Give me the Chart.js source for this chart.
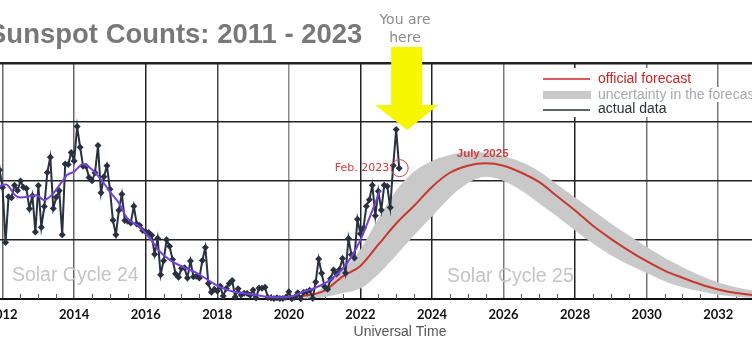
<!DOCTYPE html>
<html><head><meta charset="utf-8">
<script src="https://cdn.jsdelivr.net/npm/chart.js@4.4.0/dist/chart.umd.min.js"></script>
<style>
html,body{margin:0;padding:0;background:#fff;overflow:hidden;width:752px;height:351px;}
#wrap{position:absolute;left:-40px;top:0;width:840px;height:351px;}
canvas{display:block;}
</style></head><body>
<div id="wrap"><canvas id="c" width="840" height="351"></canvas></div>
<script>
// ---------- DATA ----------
const chartTitle = 'Sunspot Counts: 2011 - 2023';
const axisTitle = 'Universal Time';
const tickYears = [2012, 2014, 2016, 2018, 2020, 2022, 2024, 2026, 2028, 2030, 2032];
const cycleLabels = ['Solar Cycle 24', 'Solar Cycle 25'];
const legendLabels = ['official forecast', 'uncertainty in the forecast', 'actual data'];

// monthly sunspot numbers, first value = Nov 2011
const actualStart = [2011, 11];
const actualValues = [
  139.1, 109.3,
  94.4, 47.8, 86.6, 85.9, 96.5, 92.0, 100.1, 94.8, 93.7, 76.5, 87.6, 56.8,
  96.1, 60.9, 78.3, 107.3, 120.2, 76.7, 86.2, 91.8, 54.5, 114.4, 113.9, 124.2,
  117.0, 146.1, 128.7, 112.5, 112.5, 102.9, 100.2, 106.9, 130.0, 90.0, 103.6, 112.9,
  93.0, 66.7, 54.5, 75.3, 88.8, 66.5, 65.8, 64.4, 78.6, 63.6, 62.2, 58.0,
  57.0, 56.4, 54.1, 37.9, 51.5, 20.5, 32.4, 50.2, 44.6, 33.4, 21.4, 18.5,
  26.1, 26.4, 17.7, 32.3, 18.9, 19.2, 17.8, 32.6, 43.7, 13.2, 5.7, 8.2,
  6.8, 10.7, 2.5, 8.9, 13.1, 15.6, 1.6, 8.7, 3.3, 4.9, 4.9, 3.1,
  7.7, 0.8, 9.4, 9.1, 9.9, 1.2, 0.9, 0.5, 1.1, 0.4, 0.5, 1.5,
  6.2, 0.2, 1.5, 5.2, 0.2, 5.8, 6.1, 7.5, 0.6, 14.4, 34.0, 21.8,
  10.4, 8.2, 17.2, 24.5, 21.2, 25.0, 34.3, 22.0, 51.3, 37.4, 34.8, 67.5,
  55.3, 59.9, 78.5, 84.1, 96.5, 70.5, 91.4, 75.4, 96.3, 95.5, 77.6, 113.1,
  143.6, 110.9
];

// smoothed curve
const smoothYears = [2011.85, 2012.1, 2012.35, 2012.5, 2012.75, 2012.95, 2013.15, 2013.37, 2013.65, 2013.8, 2014.0, 2014.25, 2014.45, 2014.72, 2015.0, 2015.28, 2015.47, 2015.84, 2016.15, 2016.4, 2016.68, 2017.05, 2017.43, 2017.8, 2018.08, 2018.45, 2018.9, 2019.38, 2019.85, 2020.12, 2020.4, 2020.69, 2021.15, 2021.62, 2022.0, 2022.27, 2022.55];
const smoothValues = [95, 97, 88, 86, 87, 88, 84, 88, 99, 105, 108, 114.5, 111, 102.5, 91, 80, 69, 61, 50, 40, 33, 27, 22, 15, 10, 6.2, 4.2, 2, 1.4, 2.5, 6, 9, 16, 30, 50, 70, 92];

// forecast and uncertainty band
const forecastYears = [2020.0, 2020.5, 2021.0, 2021.5, 2022.0, 2022.5, 2023.0, 2023.5, 2024.0, 2024.5, 2025.0, 2025.5, 2026.0, 2026.5, 2027.0, 2027.5, 2028.0, 2028.5, 2029.0, 2029.5, 2030.0, 2030.5, 2031.0, 2031.5, 2032.0, 2032.5, 2033.0, 2033.5];
const forecastValues = [2, 3, 7, 19, 28, 46, 64, 79, 95, 107, 113, 115, 113, 107, 99, 87, 75, 62, 51, 41, 32, 24, 18, 12.5, 8, 5, 3.4, 2.2];
const bandUpper = [0, 2, 11, 25, 42, 68, 92, 108, 117, 122, 124.5, 124, 121, 116, 108, 97, 86, 75, 64, 54, 44, 35, 27, 20, 14, 10, 7, 5];
const bandLower = [0, 0.5, 1.5, 5, 9, 21, 37, 54, 70, 86, 98, 103.5, 100, 92, 81, 70, 58, 47, 37, 29, 22, 15, 10, 6.5, 3.5, 2, 1, 0.5];

// ---------- BUILD ----------
const OFF = 40; // canvas sits 40px left of the page edge
const actualPoints = actualValues.map((v, i) => {
  const m = actualStart[1] - 1 + i;
  return { x: actualStart[0] + Math.floor(m / 12) + (m % 12) / 12, y: v };
});
const zip = (xs, ys) => xs.map((x, i) => ({ x, y: ys[i] }));

const C_RED = '#c8382c', C_DATA = '#27313f', C_PURPLE = '#7443dc', C_BAND = '#c9c9c9';
const gridShade = { 2012: '#666', 2014: '#666', 2016: '#222', 2018: '#444', 2020: '#8a8a8a', 2022: '#222', 2024: '#222', 2026: '#777', 2028: '#222', 2030: '#777', 2032: '#777' };

const overlay = {
  id: 'overlay',
  beforeDatasetsDraw(chart) {
    const { ctx, scales: { x, y }, chartArea } = chart;
    ctx.save();
    // minor ticks
    ctx.strokeStyle = '#555'; ctx.lineWidth = 1;
    for (let v = 2011; v <= 2034; v += 0.5) {
      if (tickYears.includes(v)) continue;
      const px = Math.round(x.getPixelForValue(v)) + 0.5;
      ctx.beginPath(); ctx.moveTo(px, chartArea.bottom); ctx.lineTo(px, chartArea.bottom - 5); ctx.stroke();
    }
    ctx.fillStyle = '#c4c4c4';
    ctx.font = '19.5px "Liberation Sans", Arial, sans-serif';
    ctx.textBaseline = 'middle'; ctx.textAlign = 'left';
    ctx.fillText(cycleLabels[0], x.getPixelForValue(2012.26), y.getPixelForValue(19.5));
    ctx.fillText(cycleLabels[1], x.getPixelForValue(2024.42), y.getPixelForValue(18.6));
    ctx.restore();
  },
  afterDraw(chart) {
    const { ctx, scales: { x, y } } = chart;
    ctx.save();
    // title
    ctx.fillStyle = '#787878';
    ctx.font = 'bold 27.5px "Liberation Sans", Arial, sans-serif';
    ctx.textAlign = 'left'; ctx.textBaseline = 'alphabetic';
    ctx.fillText(chartTitle, -12 + OFF, 43);
    // axis title
    ctx.fillStyle = '#555';
    ctx.font = '14px "Liberation Sans Narrow", "Liberation Sans", sans-serif';
    ctx.textAlign = 'center'; ctx.textBaseline = 'middle';
    ctx.fillText(axisTitle, 400 + OFF, 332);
    // you are here
    ctx.fillStyle = '#8a8a8a';
    ctx.font = '14px "DejaVu Sans", sans-serif';
    ctx.fillText('You are', 405 + OFF, 20);
    ctx.fillText('here', 405 + OFF, 38);
    // arrow pointing to Jan 2023
    const jan = actualPoints[actualPoints.length - 2];
    const feb = actualPoints[actualPoints.length - 1];
    const tipX = x.getPixelForValue(jan.x) + 11, tipY = y.getPixelForValue(jan.y) + 0.5;
    ctx.fillStyle = '#f6f600';
    ctx.beginPath();
    ctx.moveTo(tipX - 16, tipY - 83); ctx.lineTo(tipX + 15, tipY - 83);
    ctx.lineTo(tipX + 15, tipY - 25); ctx.lineTo(tipX + 31, tipY - 25);
    ctx.lineTo(tipX, tipY); ctx.lineTo(tipX - 32, tipY - 25);
    ctx.lineTo(tipX - 16, tipY - 25); ctx.closePath(); ctx.fill();
    // Feb 2023 marker
    const fx = x.getPixelForValue(feb.x), fy = y.getPixelForValue(feb.y);
    ctx.strokeStyle = '#d44'; ctx.lineWidth = 1;
    ctx.beginPath(); ctx.arc(fx + 0.5, fy, 8.5, 0, Math.PI * 2); ctx.stroke();
    ctx.fillStyle = '#d04040';
    ctx.font = '11px "DejaVu Sans", sans-serif';
    ctx.textAlign = 'right';
    ctx.fillText('Feb. 2023', fx - 10, fy);
    // July 2025 peak label
    ctx.textAlign = 'center';
    ctx.font = 'bold 11.5px "Liberation Sans", Arial, sans-serif';
    ctx.fillText('July 2025', x.getPixelForValue(2025.5) - 3, y.getPixelForValue(115) - 9.5);
    // legend
    ctx.font = '14px "Liberation Sans", Arial, sans-serif';
    ctx.textAlign = 'left';
    const lx = 543 + OFF, tx = 598 + OFF;
    const rows = [
      { y: 79, top: 68, h: 19, color: '#cc2424' },
      { y: 95, top: 87, h: 15, color: '#a8a8a8' },
      { y: 109.5, top: 102, h: 15, color: '#2a2f3a' }
    ];
    rows.forEach((r, i) => {
      const w = ctx.measureText(legendLabels[i]).width;
      ctx.fillStyle = '#fff';
      ctx.fillRect(lx - 4, r.top, tx - lx + w + 6, r.h);
    });
    ctx.strokeStyle = '#cc2424'; ctx.lineWidth = 1.5;
    ctx.beginPath(); ctx.moveTo(lx, 79); ctx.lineTo(lx + 47, 79); ctx.stroke();
    ctx.fillStyle = C_BAND; ctx.fillRect(lx, 91, 48, 8);
    ctx.strokeStyle = '#2a2f3a'; ctx.lineWidth = 1.5;
    ctx.beginPath(); ctx.moveTo(lx, 110); ctx.lineTo(lx + 47, 110); ctx.stroke();
    rows.forEach((r, i) => {
      ctx.fillStyle = r.color;
      ctx.fillText(legendLabels[i], tx, r.y);
    });
    ctx.restore();
  }
};

new Chart(document.getElementById('c'), {
  type: 'line',
  data: {
    datasets: [
      { label: 'smoothed', data: zip(smoothYears, smoothValues), borderColor: C_PURPLE, borderWidth: 2, pointRadius: 0, cubicInterpolationMode: 'monotone', fill: false },
      { label: legendLabels[2], data: actualPoints, borderColor: C_DATA, backgroundColor: C_DATA, borderWidth: 2, pointStyle: 'rectRot', pointRadius: 3.5, pointBorderWidth: 0, tension: 0, fill: false, clip: false },
      { label: legendLabels[0], data: zip(forecastYears, forecastValues), borderColor: C_RED, borderWidth: 2, pointRadius: 0, cubicInterpolationMode: 'monotone', fill: false },
      { label: 'upper', data: zip(forecastYears, bandUpper), borderWidth: 0, borderColor: 'rgba(0,0,0,0)', backgroundColor: C_BAND, pointRadius: 0, cubicInterpolationMode: 'monotone', fill: '+1' },
      { label: 'lower', data: zip(forecastYears, bandLower), borderWidth: 0, borderColor: 'rgba(0,0,0,0)', pointRadius: 0, cubicInterpolationMode: 'monotone', fill: false }
    ]
  },
  options: {
    responsive: false, animation: false, devicePixelRatio: 1,
    layout: { padding: { left: 6.8, right: 10.2, top: 63, bottom: 0 } },
    plugins: { legend: { display: false }, tooltip: { enabled: false }, title: { display: false } },
    scales: {
      x: {
        type: 'linear', min: 2011, max: 2034,
        afterBuildTicks: s => { s.ticks = tickYears.map(v => ({ value: v })); },
        afterFit: s => { s.height = 52; },
        grid: { drawTicks: false, lineWidth: 1.5, color: c => (c.tick ? gridShade[c.tick.value] : '#555') || '#555' },
        border: { display: true, color: '#111', width: 2 },
        ticks: { padding: 8, color: '#111', font: { family: 'Lato', weight: 'bold', size: 13 }, callback: v => String(v), maxRotation: 0, autoSkip: false }
      },
      y: {
        min: 0, max: 200,
        ticks: { display: false, stepSize: 50 },
        afterFit: s => { s.width = 0; },
        grid: { drawTicks: false, color: '#222', lineWidth: c => (c.tick && c.tick.value === 200 ? 2.5 : 1.5) },
        border: { display: false }
      }
    }
  },
  plugins: [overlay]
});
</script>
</body></html>
